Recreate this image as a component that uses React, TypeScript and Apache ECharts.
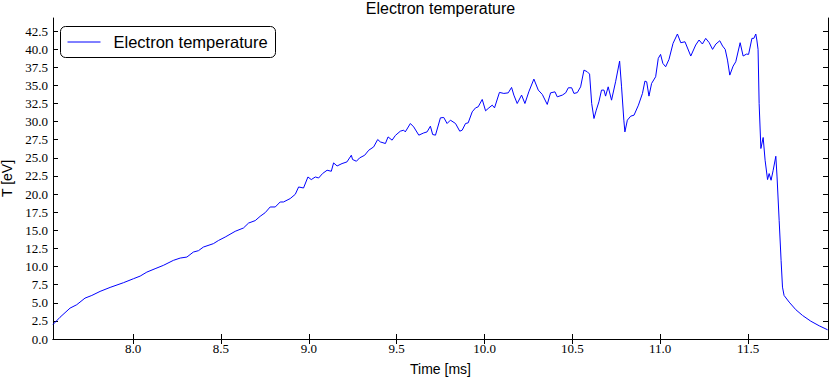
import React, { useEffect, useRef } from "react";
import * as echarts from "echarts";

const time = [
  7.544, 7.584, 7.641, 7.679, 7.726, 7.765, 7.812, 7.869, 7.945, 8.002,
  8.040, 8.078, 8.125, 8.172, 8.229, 8.268, 8.306, 8.343, 8.372, 8.400,
  8.457, 8.486, 8.524, 8.581, 8.628, 8.657, 8.695, 8.723, 8.752, 8.780,
  8.809, 8.837, 8.856, 8.894, 8.923, 8.942, 8.970, 8.995, 9.014, 9.037,
  9.056, 9.078, 9.104, 9.128, 9.141, 9.161, 9.189, 9.217, 9.242, 9.249,
  9.271, 9.289, 9.318, 9.341, 9.369, 9.392, 9.407, 9.436, 9.451, 9.474,
  9.493, 9.521, 9.540, 9.549, 9.578, 9.597, 9.626, 9.654, 9.673, 9.692,
  9.705, 9.721, 9.749, 9.768, 9.787, 9.806, 9.835, 9.859, 9.873, 9.892,
  9.907, 9.930, 9.949, 9.964, 9.987, 10.006, 10.025, 10.044, 10.057, 10.085,
  10.110, 10.135, 10.154, 10.167, 10.186, 10.211, 10.230, 10.252, 10.281, 10.306,
  10.329, 10.357, 10.376, 10.401, 10.414, 10.443, 10.462, 10.477, 10.496, 10.509,
  10.528, 10.547, 10.566, 10.585, 10.598, 10.610, 10.623, 10.636, 10.651, 10.666,
  10.680, 10.689, 10.704, 10.723, 10.746, 10.769, 10.780, 10.793, 10.799, 10.813,
  10.832, 10.851, 10.876, 10.899, 10.913, 10.923, 10.936, 10.951, 10.974, 10.989,
  11.002, 11.015, 11.031, 11.050, 11.073, 11.098, 11.117, 11.141, 11.174, 11.202,
  11.221, 11.240, 11.259, 11.279, 11.298, 11.317, 11.339, 11.355, 11.370, 11.383,
  11.396, 11.415, 11.430, 11.455, 11.472, 11.491, 11.503, 11.522, 11.533, 11.544,
  11.550, 11.557, 11.563, 11.573, 11.586, 11.597, 11.611, 11.620, 11.631, 11.643,
  11.658, 11.665, 11.677, 11.688, 11.696, 11.705, 11.734, 11.772, 11.810, 11.857,
  11.905, 11.953,
];

const temperature = [
  2.0, 3.0, 4.26, 4.73, 5.64, 6.01, 6.57, 7.12, 7.77, 8.32,
  8.68, 9.23, 9.70, 10.16, 10.85, 11.17, 11.31, 12.0, 12.19, 12.69,
  13.16, 13.6, 14.07, 14.86, 15.32, 16.0, 16.34, 16.93, 17.44, 18.22,
  18.22, 18.91, 18.91, 19.38, 19.97, 20.98, 20.84, 22.36, 22.0, 22.36,
  22.22, 22.83, 23.29, 23.15, 24.3, 23.88, 24.21, 24.44, 25.36, 24.77,
  24.53, 24.99, 25.36, 26.05, 26.51, 27.53, 27.2, 26.98, 27.89, 27.44,
  28.1, 28.68, 28.82, 28.58, 29.74, 29.27, 28.13, 28.44, 28.58, 29.37,
  28.22, 28.13, 30.52, 30.57, 29.74, 30.2, 29.74, 28.68, 28.82, 29.74,
  29.83, 31.35, 31.9, 32.04, 33.06, 31.49, 31.9, 32.27, 31.9, 34.03,
  33.89, 33.97, 34.72, 33.66, 32.5, 33.66, 32.5, 34.11, 35.87, 34.35,
  33.75, 32.37, 33.97, 34.11, 33.42, 33.66, 33.97, 34.67, 34.67, 33.89,
  34.0, 34.8, 37.11, 36.88, 36.56, 32.5, 30.43, 31.58, 32.73, 34.35,
  34.35, 33.52, 34.8, 32.96, 35.5, 38.35, 34.8, 30.2, 28.58, 30.2,
  30.75, 30.89, 32.27, 33.89, 35.59, 35.5, 33.52, 35.27, 36.19, 38.73,
  39.28, 38.04, 37.57, 38.59, 40.8, 42.09, 40.89, 41.02, 39.05, 40.57,
  41.26, 40.71, 41.49, 40.89, 39.97, 40.71, 41.16, 40.43, 39.97, 38.49,
  36.42, 37.66, 38.26, 40.89, 39.05, 39.32, 39.28, 41.49, 41.49, 42.09,
  41.26, 39.97, 32.5, 26.29, 27.81, 24.67, 22.0, 22.83, 21.91, 23.29,
  25.22, 22.36, 16.38, 10.85, 7.16, 6.01, 5.09, 4.04, 3.25, 2.46,
  1.82, 1.27,
];

const xTicks = [8.0, 8.5, 9.0, 9.5, 10.0, 10.5, 11.0, 11.5];
const yTicks = [
  0, 2.5, 5, 7.5, 10, 12.5, 15, 17.5, 20, 22.5, 25, 27.5, 30, 32.5, 35,
  37.5, 40, 42.5,
];

const seriesName = "Electron temperature";
const titleText = "Electron temperature";
const xName = "Time [ms]";
const yName = "T [eV]";

const X_MIN = 7.544;
const X_MAX = 11.955;
const Y_MIN = 0;
const Y_MAX = 44.3;

const LINE_COLOR = "#0000ff";

export default function App() {
  const ref = useRef<HTMLDivElement>(null);

  useEffect(() => {
    document.body.style.margin = "0";
    if (!ref.current) return;
    const chart = echarts.init(ref.current, null, { renderer: "svg" });

    const serifLabel = {
      fontFamily: "Liberation Serif",
      fontSize: 13,
      color: "#000",
    };
    const axisLine = { show: true, lineStyle: { color: "#000", width: 1 } };
    const tick = (vals: number[]) => ({
      show: true,
      inside: true,
      length: 5,
      customValues: vals,
      lineStyle: { color: "#000", width: 1 },
    });

    chart.setOption({
      animation: false,
      backgroundColor: "#fff",
      title: {
        text: titleText,
        left: 440.5,
        textAlign: "center",
        top: 0,
        padding: 0,
        textStyle: {
          fontFamily: "Liberation Sans",
          fontSize: 16,
          fontWeight: "normal",
          color: "#000",
        },
      },
      legend: { show: false },
      graphic: [
        {
          type: "group",
          left: 60,
          top: 26,
          z: 100,
          children: [
            {
              type: "rect",
              shape: { x: 0, y: 0, width: 215, height: 31, r: 5 },
              style: { fill: "#fff", stroke: "#000", lineWidth: 1 },
            },
            {
              type: "line",
              shape: { x1: 7, y1: 15.5, x2: 40, y2: 15.5 },
              style: { stroke: LINE_COLOR, lineWidth: 1 },
            },
            {
              type: "text",
              x: 53,
              y: 15.5,
              style: {
                text: seriesName,
                fontFamily: "Liberation Sans",
                fontSize: 16.5,
                fill: "#000",
                verticalAlign: "middle",
                align: "left",
              },
            },
          ],
        },
      ],
      grid: {
        left: 53,
        right: 1,
        top: 18,
        bottom: 38,
        containLabel: false,
        outerBoundsMode: "none",
      },
      xAxis: [
        {
          type: "value",
          min: X_MIN,
          max: X_MAX,
          position: "bottom",
          name: xName,
          nameLocation: "middle",
          nameGap: 23,
          nameTextStyle: {
            fontFamily: "Liberation Sans",
            fontSize: 14,
            color: "#000",
          },
          axisLine,
          axisTick: tick(xTicks),
          axisLabel: {
            ...serifLabel,
            margin: 3,
            customValues: xTicks,
            formatter: (v: number) => v.toFixed(1),
          },
          splitLine: { show: false },
        },
        {
          type: "value",
          min: X_MIN,
          max: X_MAX,
          position: "top",
          axisLine,
          axisTick: tick(xTicks),
          axisLabel: { show: false },
          splitLine: { show: false },
        },
      ],
      yAxis: [
        {
          type: "value",
          min: Y_MIN,
          max: Y_MAX,
          position: "left",
          name: yName,
          nameLocation: "middle",
          nameGap: 38,
          nameTextStyle: {
            fontFamily: "Liberation Sans",
            fontSize: 14,
            color: "#000",
          },
          axisLine,
          axisTick: tick(yTicks),
          axisLabel: {
            ...serifLabel,
            margin: 5,
            customValues: yTicks,
            formatter: (v: number) => v.toFixed(1),
          },
          splitLine: { show: false },
        },
        {
          type: "value",
          min: Y_MIN,
          max: Y_MAX,
          position: "right",
          axisLine,
          axisTick: tick(yTicks),
          axisLabel: { show: false },
          splitLine: { show: false },
        },
      ],
      series: [
        {
          name: seriesName,
          type: "line",
          xAxisIndex: 0,
          yAxisIndex: 0,
          symbol: "none",
          showSymbol: false,
          smooth: false,
          lineStyle: { color: LINE_COLOR, width: 1 },
          itemStyle: { color: LINE_COLOR },
          data: time.map((t, i) => [t, temperature[i]]),
        },
      ],
    });

    return () => chart.dispose();
  }, []);

  return (
    <div
      ref={ref}
      style={{ position: "absolute", left: 0, top: 0, width: 829, height: 377 }}
    />
  );
}
